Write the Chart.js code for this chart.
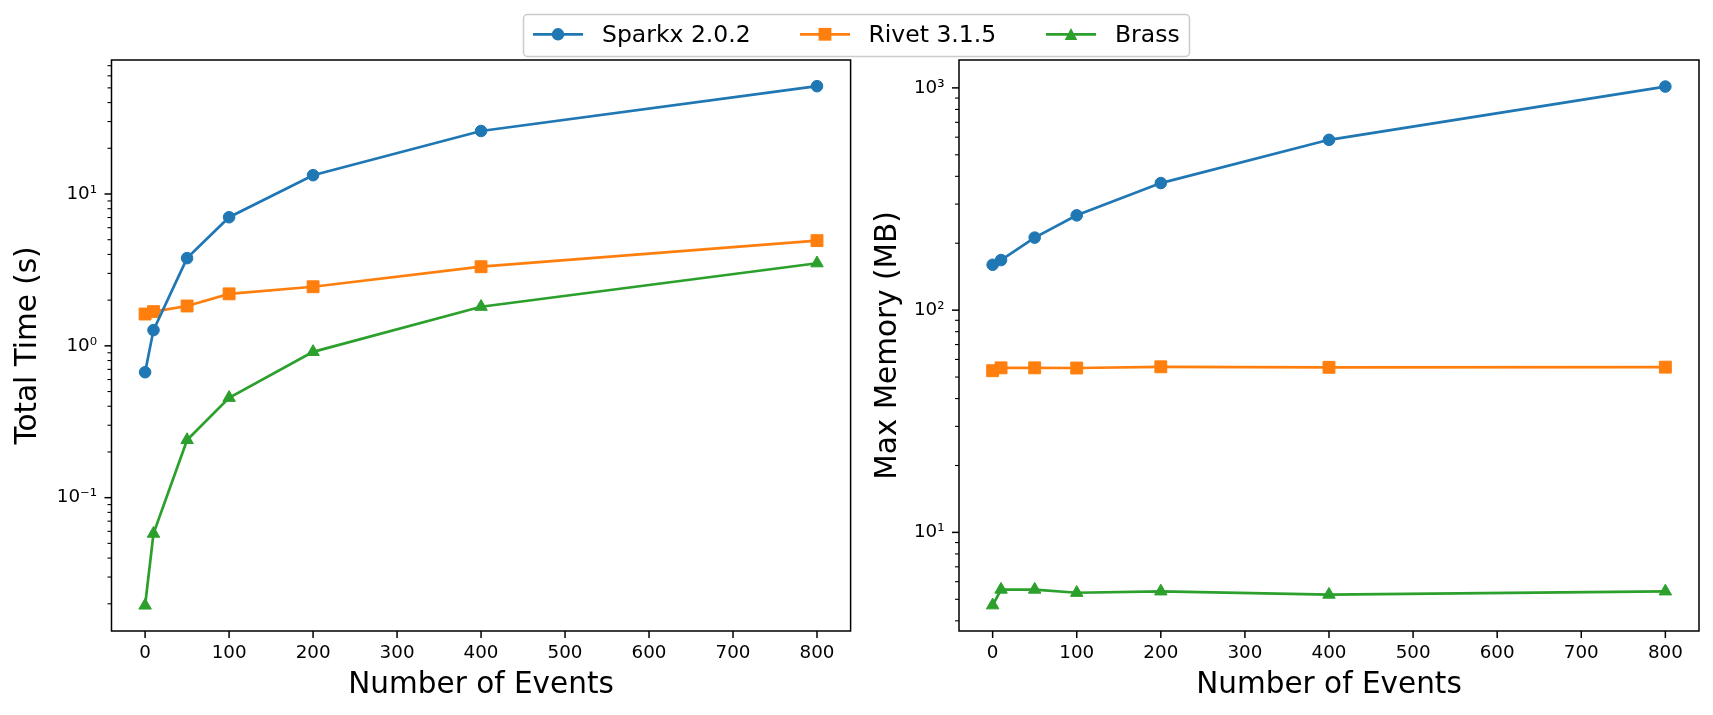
<!DOCTYPE html>
<html>
<head>
<meta charset="utf-8">
<script src="https://cdn.jsdelivr.net/npm/chart.js@4/dist/chart.umd.min.js"></script>
<style>
  html, body { margin: 0; padding: 0; background: #fff; }
  #wrap { position: relative; width: 1713px; height: 715px; overflow: hidden; background: #fff; }
  canvas { position: absolute; top: 0; }
  #legend { position: absolute; left: 0; top: 0; pointer-events: none; }
</style>
</head>
<body>
<div id="wrap">
  <canvas id="timeChart" width="860" height="715" style="left:0px;width:860px;height:715px"></canvas>
  <canvas id="memChart" width="853" height="715" style="left:860px;width:853px;height:715px"></canvas>
  <svg id="legend" width="1713" height="70" xmlns="http://www.w3.org/2000/svg"></svg>
</div>
<script>
// ---------------- data ----------------
const events = [0, 10, 50, 100, 200, 400, 800];
const seriesNames = ['Sparkx 2.0.2', 'Rivet 3.1.5', 'Brass'];

const timeSparkx = [0.67, 1.27, 3.78, 7.03, 13.3, 26.0, 51.3];
const timeRivet  = [1.62, 1.68, 1.83, 2.20, 2.45, 3.32, 4.93];
const timeBrass  = [0.0195, 0.058, 0.24, 0.455, 0.913, 1.81, 3.50];

const memSparkx = [160, 168, 212, 267, 373, 584, 1014];
const memRivet  = [53.4, 55.0, 55.0, 54.9, 55.6, 55.3, 55.4];
const memBrass  = [4.70, 5.53, 5.53, 5.35, 5.43, 5.25, 5.43];

const xTickValues = [0, 100, 200, 300, 400, 500, 600, 700, 800];
const timeTickValues = [0.1, 1, 10];
const timeTickLabels = ['10\u207B\u00B9', '10\u2070', '10\u00B9'];
const memTickValues = [10, 100, 1000];
const memTickLabels = ['10\u00B9', '10\u00B2', '10\u00B3'];

// ---------------- style ----------------
const colors = ['#1f77b4', '#ff7f0e', '#2ca02c'];
const pointStyles = ['circle', 'rect', 'triangle'];
const pointRadii = [5.8, 8.4, 7.2];
const FONT = 'DejaVu Sans';

function makeDatasets(arrs) {
  return arrs.map((vals, i) => ({
    label: seriesNames[i],
    data: events.map((e, j) => ({ x: e, y: vals[j] })),
    borderColor: colors[i],
    backgroundColor: colors[i],
    pointBackgroundColor: colors[i],
    pointBorderColor: colors[i],
    pointBorderWidth: 1,
    pointStyle: pointStyles[i],
    pointRadius: pointRadii[i],
    borderWidth: 2.7,
    tension: 0,
    fill: false
  }));
}

function isPow10(v) {
  const l = Math.log10(v);
  return Math.abs(l - Math.round(l)) < 1e-9;
}

function logTicks(min, max) {
  const out = [];
  const e0 = Math.floor(Math.log10(min)), e1 = Math.ceil(Math.log10(max));
  for (let e = e0; e <= e1; e++) {
    for (let k = 1; k <= 9; k++) {
      const v = parseFloat((k * Math.pow(10, e)).toPrecision(12));
      if (v >= min && v <= max) out.push({ value: v, major: k === 1 });
    }
  }
  return out;
}

const frameTicks = {
  id: 'frameTicks',
  afterDatasetsDraw(chart) {
    const ctx = chart.ctx, a = chart.chartArea;
    const xs = chart.scales.x, ys = chart.scales.y;
    ctx.save();
    ctx.strokeStyle = '#000';
    ctx.lineCap = 'butt';
    xs.ticks.forEach(t => {
      const px = xs.getPixelForValue(t.value);
      ctx.lineWidth = 1.5;
      ctx.beginPath(); ctx.moveTo(px, a.bottom); ctx.lineTo(px, a.bottom + 7); ctx.stroke();
    });
    ys.ticks.forEach(t => {
      const py = ys.getPixelForValue(t.value);
      const major = isPow10(t.value);
      ctx.lineWidth = major ? 1.5 : 1.1;
      ctx.beginPath(); ctx.moveTo(a.left - (major ? 7 : 4), py); ctx.lineTo(a.left, py); ctx.stroke();
    });
    ctx.lineWidth = 1.5;
    ctx.strokeRect(a.left, a.top, a.right - a.left, a.bottom - a.top);
    ctx.restore();
  }
};

function makeChart(canvasId, arrs, yMin, yMax, tickVals, tickLabels, yTitle, yWidth, padRight) {
  return new Chart(document.getElementById(canvasId), {
    type: 'line',
    data: { datasets: makeDatasets(arrs) },
    options: {
      responsive: false,
      animation: false,
      devicePixelRatio: 1,
      events: [],
      layout: { padding: { left: 0, right: padRight, top: 60, bottom: 0 } },
      plugins: { legend: { display: false }, tooltip: { enabled: false } },
      scales: {
        x: {
          type: 'linear',
          min: -40, max: 840,
          afterBuildTicks: s => { s.ticks = xTickValues.map(v => ({ value: v })); },
          afterFit: s => { s.height = 84; },
          grid: { display: true, drawOnChartArea: false, drawTicks: true, tickLength: 7, color: 'rgba(0,0,0,0)' },
          border: { display: false },
          ticks: {
            autoSkip: false, maxRotation: 0, minRotation: 0, padding: 4,
            color: '#000', font: { family: FONT, size: 18.3 },
            callback: v => String(v)
          },
          title: {
            display: true, text: 'Number of Events', color: '#000',
            font: { family: FONT, size: 29.5 }, padding: { top: 0, bottom: 12 }
          }
        },
        y: {
          type: 'logarithmic',
          min: yMin, max: yMax,
          afterBuildTicks: s => { s.ticks = logTicks(yMin, yMax); },
          afterFit: s => { s.width = yWidth; },
          grid: { display: true, drawOnChartArea: false, drawTicks: true, tickLength: 7, color: 'rgba(0,0,0,0)' },
          border: { display: false },
          ticks: {
            autoSkip: false, padding: 7.5,
            color: '#000', font: { family: FONT, size: 18.3 },
            callback: v => {
              const idx = tickVals.findIndex(t => Math.abs(t - v) / t < 1e-9);
              return idx >= 0 ? tickLabels[idx] : '';
            }
          },
          title: {
            display: true, text: yTitle, color: '#000',
            font: { family: FONT, size: 29.5 }, padding: { top: 10.3, bottom: 0 }
          }
        }
      }
    },
    plugins: [frameTicks]
  });
}

makeChart('timeChart', [timeSparkx, timeRivet, timeBrass], 0.01324, 76.3,
  timeTickValues, timeTickLabels, 'Total Time (s)', 111.5, 8.5);
makeChart('memChart', [memSparkx, memRivet, memBrass], 3.60, 1335,
  memTickValues, memTickLabels, 'Max Memory (MB)', 99, 14);

// ---------------- legend (SVG, real text) ----------------
(function buildLegend() {
  const svg = document.getElementById('legend');
  const NS = 'http://www.w3.org/2000/svg';
  const box = document.createElementNS(NS, 'rect');
  box.setAttribute('x', 523.5); box.setAttribute('y', 14.5);
  box.setAttribute('width', 666); box.setAttribute('height', 42);
  box.setAttribute('rx', 4); box.setAttribute('ry', 4);
  box.setAttribute('fill', 'rgba(255,255,255,0.8)');
  box.setAttribute('stroke', '#cccccc'); box.setAttribute('stroke-width', 1.5);
  svg.appendChild(box);
  const handleX = [533, 800, 1046];
  const textX = [602, 868.5, 1115];
  const cy = 34.3;
  seriesNames.forEach((name, i) => {
    const ln = document.createElementNS(NS, 'line');
    ln.setAttribute('x1', handleX[i]); ln.setAttribute('x2', handleX[i] + 50);
    ln.setAttribute('y1', cy); ln.setAttribute('y2', cy);
    ln.setAttribute('stroke', colors[i]); ln.setAttribute('stroke-width', 2.7);
    svg.appendChild(ln);
    const mx = handleX[i] + 25;
    let m;
    if (pointStyles[i] === 'circle') {
      m = document.createElementNS(NS, 'circle');
      m.setAttribute('cx', mx); m.setAttribute('cy', cy); m.setAttribute('r', 6.2);
    } else if (pointStyles[i] === 'rect') {
      m = document.createElementNS(NS, 'rect');
      m.setAttribute('x', mx - 6.4); m.setAttribute('y', cy - 6.4);
      m.setAttribute('width', 12.8); m.setAttribute('height', 12.8);
    } else {
      m = document.createElementNS(NS, 'polygon');
      m.setAttribute('points', `${mx},${cy - 6.3} ${mx - 6.3},${cy + 5.6} ${mx + 6.3},${cy + 5.6}`);
    }
    m.setAttribute('fill', colors[i]);
    svg.appendChild(m);
    const tx = document.createElementNS(NS, 'text');
    tx.setAttribute('x', textX[i]); tx.setAttribute('y', 42.3);
    tx.setAttribute('font-family', FONT); tx.setAttribute('font-size', 23.5);
    tx.setAttribute('fill', '#000');
    tx.textContent = name;
    svg.appendChild(tx);
  });
})();
</script>
</body>
</html>
